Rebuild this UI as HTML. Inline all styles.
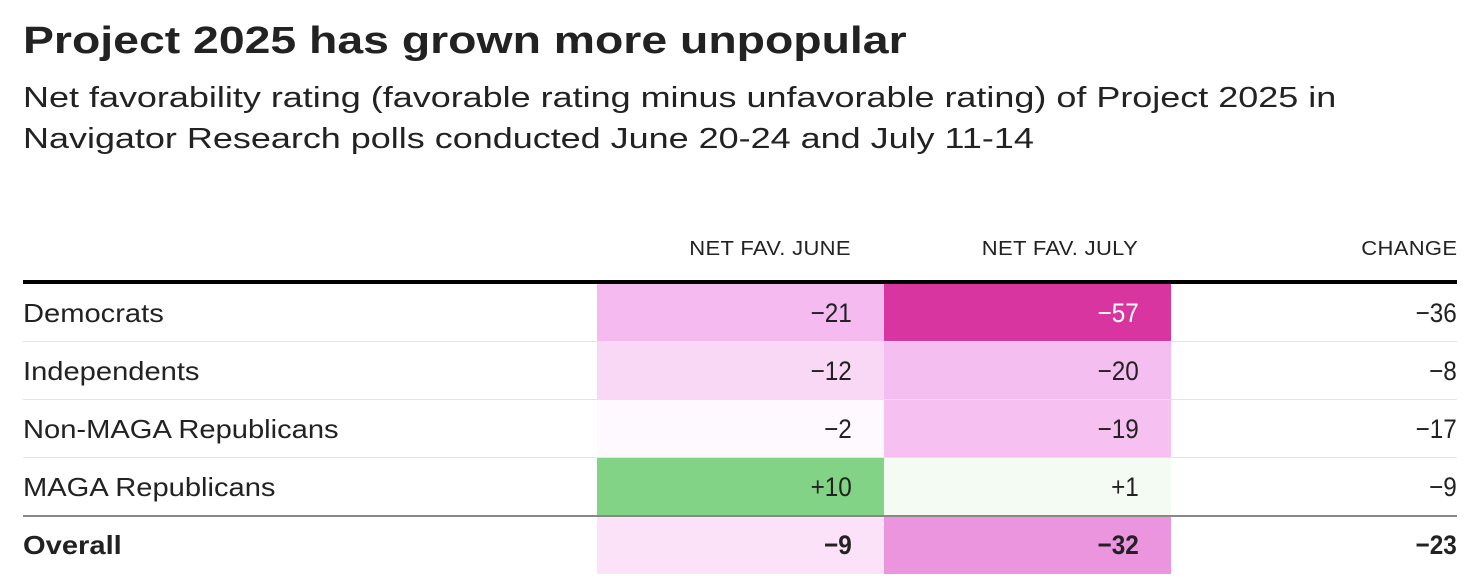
<!DOCTYPE html>
<html><head><meta charset="utf-8">
<style>
body{margin:0;background:#fff;width:1482px;height:582px;overflow:hidden;font-family:"Liberation Sans",sans-serif;color:#222;position:relative}
.t{position:absolute;left:23px;top:20px;font-size:38px;font-weight:bold;transform:scaleX(1.22);transform-origin:left top;white-space:nowrap}
.s{position:absolute;left:23px;top:78px;font-size:29px;line-height:41px;color:#222;transform:scaleX(1.24);transform-origin:left top;white-space:nowrap}
.h{position:absolute;top:238px;font-size:20px;letter-spacing:0.3px;color:#222;transform:scaleX(1.1);transform-origin:right top}
.rule{position:absolute;left:23px;width:1434px}
.cell{position:absolute;height:58px}
.num{position:absolute;font-size:27px;line-height:58px;text-align:right;display:inline-block;transform:scaleX(0.9);transform-origin:right center}
.lab{position:absolute;left:23px;font-size:26px;line-height:58px;transform:scaleX(1.12);transform-origin:left center;white-space:nowrap}
</style></head><body>
<div class="t">Project 2025 has grown more unpopular</div>
<div class="s">Net favorability rating (favorable rating minus unfavorable rating) of Project 2025 in<br>Navigator Research polls conducted June 20-24 and July 11-14</div>
<div class="h" style="right:631px">NET FAV. JUNE</div>
<div class="h" style="right:344px">NET FAV. JULY</div>
<div class="h" style="right:25px">CHANGE</div>
<div id="tbl"></div>
<script>
const groups=["Democrats","Independents","Non-MAGA Republicans","MAGA Republicans","Overall"];
const june=[-21,-12,-2,10,-9];
const july=[-57,-20,-19,1,-32];
const change=[-36,-8,-17,-9,-23];
const tbl=document.getElementById('tbl');
const top0=284,rowH=58;
function mix(a,b,t){return 'rgb('+a.map((v,i)=>Math.round(v+(b[i]-v)*t)).join(',')+')';}
const negStops=[[0,[255,255,255]],[21,[245,187,240]],[32,[236,149,223]],[57,[216,53,160]]];
function color(v){
  if(v<0){
    const a=Math.min(57,-v);
    for(let k=1;k<negStops.length;k++){
      if(a<=negStops[k][0]){const [x0,c0]=negStops[k-1],[x1,c1]=negStops[k];return mix(c0,c1,(a-x0)/(x1-x0));}
    }
    return mix([216,53,160],[216,53,160],0);
  }
  return mix([244,251,243],[130,211,133],Math.min(1,(v-1)/9));
}
function fmt(v){return v>0?'+'+v:(v<0?'\u2212'+(-v):''+v);}
function add(html){const d=document.createElement('div');d.innerHTML=html;const e=d.firstChild;tbl.appendChild(e);return e;}
const line0=add('<div class="rule"></div>');
line0.style.cssText='top:280px;height:4px;background:#000';


groups.forEach((g,i)=>{
  const y=top0+i*rowH;
  const bold=i===groups.length-1?'font-weight:bold;':'';
  const lab=add('<div class="lab"></div>');
  lab.style.cssText='top:'+y+'px;'+bold;
  lab.textContent=g;
  
  
  [[june,597,287,'june'],[july,884,287,'july']].forEach(([arr,x,w,nm])=>{
    const c=add('<div class="cell"></div>');
    c.style.cssText='left:'+x+'px;top:'+y+'px;width:'+w+'px;background:'+color(arr[i]);
    
    
    const n=add('<div class="num"></div>');
    n.style.cssText='right:'+(1482-x-w+32)+'px;top:'+y+'px;'+bold+(arr[i]<-40?'color:#fff;':'');
    n.textContent=fmt(arr[i]);
    
    
  });
  const ch=add('<div class="num"></div>');
  ch.style.cssText='right:25px;top:'+y+'px;'+bold;
  ch.textContent=fmt(change[i]);
  
  
  if(i>0){
    const r=add('<div class="rule"></div>');
    const last=i===groups.length-1;
    r.style.cssText='top:'+(y-1)+'px;height:'+(last?2:1)+'px;background:'+(last?'#888':'#e4e4e4');
    
    
  }
});
</script>
</body></html>
